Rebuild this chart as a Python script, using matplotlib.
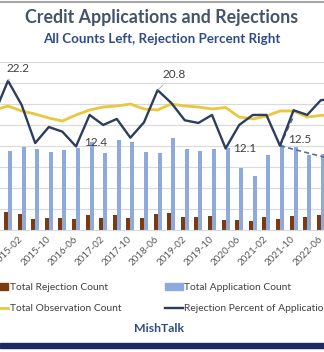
import numpy as np
import matplotlib
matplotlib.use("Agg")
import matplotlib.pyplot as plt
from matplotlib.patches import Patch, Rectangle
from matplotlib.lines import Line2D

plt.rcParams['font.family'] = ['Lato', 'DejaVu Sans']

# ---------------- data ----------------
months = ["2014-06", "2014-10", "2015-02", "2015-06", "2015-10", "2016-02", "2016-06",
          "2016-10", "2017-02", "2017-06", "2017-10", "2018-02", "2018-06", "2018-10",
          "2019-02", "2019-06", "2019-10", "2020-02", "2020-06", "2020-10", "2021-02",
          "2021-06", "2021-10", "2022-02", "2022-06", "2022-10"]
rejection_count = [400, 425, 363, 244, 267, 275, 244, 346, 282, 346, 275, 275, 370,
                   387, 291, 291, 322, 227, 227, 210, 291, 244, 330, 291, 339, 330]
application_count = [1900, 1882, 1977, 1915, 1851, 1898, 1939, 2097, 1834, 2137, 2078,
                     1844, 1827, 2178, 1915, 1882, 1922, 1939, 1476, 1278, 1779, 2018,
                     1963, 1779, 1803, 1800]
observation_count = [2854, 2949, 2830, 2758, 2663, 2591, 2734, 2854, 2925, 2949, 2997,
                     2878, 2854, 2997, 2949, 2925, 2878, 2913, 2687, 2639, 2710, 2830,
                     2830, 2687, 2722, 2750]
rejection_pct = [17.3, 22.2, 18.6, 12.9, 15.3, 14.6, 12.4, 17.1, 15.6, 16.5, 13.7, 16.0,
                 20.8, 18.9, 16.3, 15.9, 17.1, 12.1, 15.6, 17.1, 17.1, 12.5, 17.8, 17.1,
                 19.3, 19.5]
labelled_points = ["2014-10", "2016-06", "2018-06", "2020-02", "2021-06"]
trend_up_end = ("2021-10", 16.9)
trend_down_end = ("2022-10", 10.4)

# ---------------- figure ----------------
W, H = 324, 352
fig = plt.figure(figsize=(W / 100, H / 100), dpi=100)
fig.patch.set_facecolor('white')

bottom_px, top_px = 229.5, 62.0
ax = fig.add_axes([0, 1 - bottom_px / H, 1, (bottom_px - top_px) / H])
ax2 = ax.twinx()

x = np.arange(len(months))
bw = 0.29
ax.bar(x - 0.15, rejection_count, width=bw, color='#7A3B12', zorder=2)
ax.bar(x + 0.15, application_count, width=bw, color='#8EA9DB', zorder=2)
ax.plot(x, observation_count, color='#E9C73E', lw=2.0, zorder=3)

ax.set_ylim(0, 4000)
ax.set_yticks(np.arange(0, 4001, 500))
ax.yaxis.grid(True, color='#D9D9D9', lw=0.8, zorder=0)
ax.set_axisbelow(True)
ax.set_xlim(1 - 8 / 13.6, 1 + 316 / 13.6)

for a in (ax, ax2):
    for s in a.spines.values():
        s.set_visible(False)
    a.tick_params(axis='y', left=False, right=False, labelleft=False, labelright=False)
ax.spines['bottom'].set_visible(True)
ax.spines['bottom'].set_color('#D9D9D9')

ax.set_xticks(x[2::2])
ax.set_xticklabels(months[2::2], rotation=45, ha='right', va='center',
                   rotation_mode='anchor', fontsize=7.0, color='#595959')
ax.tick_params(axis='x', length=0, pad=6)

ax2.plot(x, rejection_pct, color='#2C3E5E', lw=1.7, zorder=4)
ax2.set_ylim(0, 25)

# dashed annotation lines from the 2021-06 point
i0 = months.index("2021-06")
iu = months.index(trend_up_end[0])
idn = months.index(trend_down_end[0])
ax2.plot([x[i0], x[iu]], [rejection_pct[i0], trend_up_end[1]], color='#5A6E96',
         lw=1.2, ls=(0, (3, 2)), zorder=3)
ax2.plot([x[i0], x[idn]], [rejection_pct[i0], trend_down_end[1]], color='#5A6E96',
         lw=1.2, ls=(0, (3, 2)), zorder=3)

offsets = {"2014-10": (7.5, 8.6, True), "2016-06": (14.4, 2.9, False),
           "2018-06": (11.8, 11.2, True), "2020-02": (13.5, 0.0, False),
           "2021-06": (14.0, 4.3, False)}
for m in labelled_points:
    i = months.index(m)
    dx, dy, leader = offsets[m]
    ap = dict(arrowstyle='-', color='#A6A6A6', lw=0.6, shrinkA=2, shrinkB=0) if leader else None
    ax2.annotate(f"{rejection_pct[i]:.1f}", (x[i], rejection_pct[i]),
                 xytext=(dx, dy), textcoords='offset points', ha='center', va='center',
                 fontsize=8.5, color='#404040', arrowprops=ap, zorder=6)

# titles
fig.text(0.5, 1 - 18 / H, "Credit Applications and Rejections", ha='center', va='center',
         fontsize=12.8, fontweight='bold', color='#44546A')
fig.text(0.5, 1 - 39 / H, "All Counts Left, Rejection Percent Right", ha='center',
         va='center', fontsize=9.6, fontweight='bold', color='#2F4C8A')

# legend
handles = [Patch(color='#7A3B12'), Line2D([], [], color='#E9C73E', lw=2.0),
           Patch(color='#8EA9DB'), Line2D([], [], color='#2C3E5E', lw=1.7)]
labels = ["Total Rejection Count", "Total Observation Count",
          "Total Application Count", "Rejection Percent of Applications"]
fig.legend(handles, labels, loc='upper left', bbox_to_anchor=(-9 / W, 1 - 283 / H),
           ncol=2, frameon=False, fontsize=7.4, handlelength=1.7, handleheight=0.6,
           handletextpad=0.1, columnspacing=4.3, borderpad=0, borderaxespad=0,
           labelspacing=1.2, labelcolor='#404040')

fig.text(0.49, 1 - 329 / H, "MishTalk", ha='center', va='center', fontsize=8.8,
         fontweight='bold', color='#2F4C8A')

# frame decorations
fig.add_artist(Rectangle((0, 1 - 348 / H), 1, 5 / H, transform=fig.transFigure,
                         color='#1F2A5E', zorder=10))
fig.add_artist(Line2D([0, 1], [1 - 2 / H, 1 - 2 / H], transform=fig.transFigure,
                      color='#A6A6A6', lw=1.5))

fig.savefig("out.png", dpi=100)
